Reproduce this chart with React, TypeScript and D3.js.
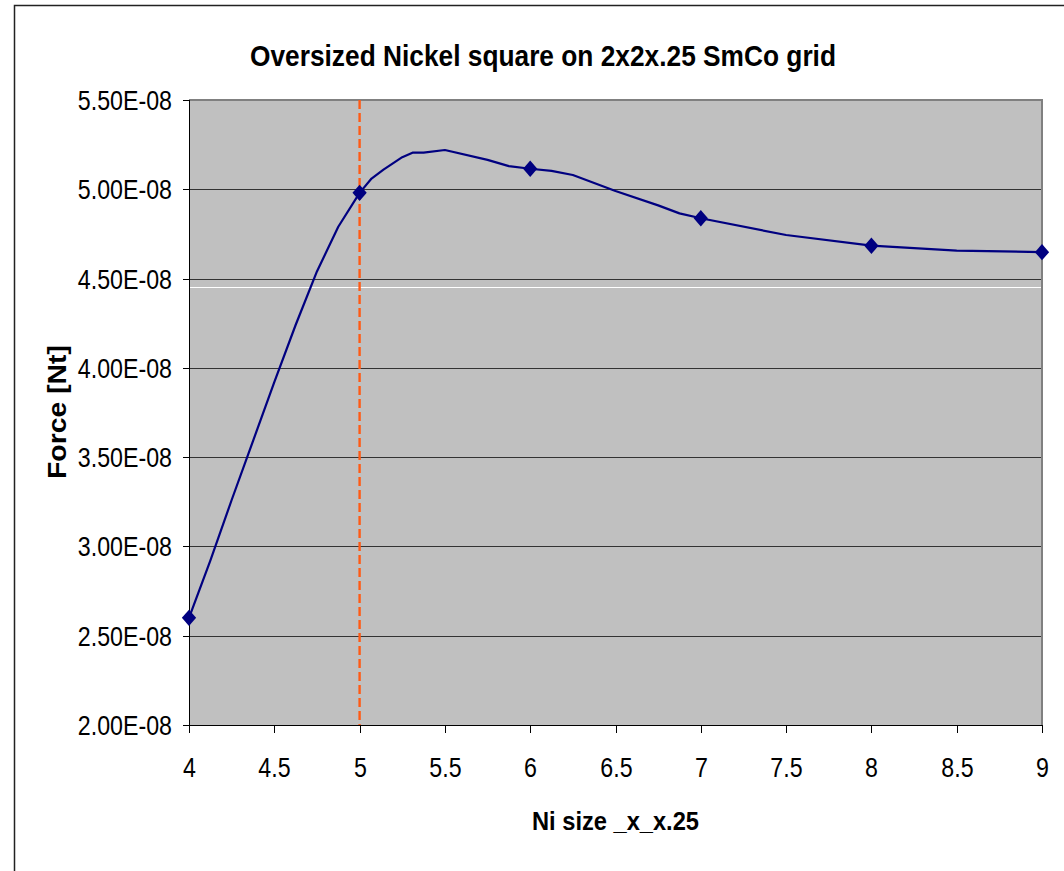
import * as React from 'react';
import * as d3 from 'd3';

// Fine curve (Ni size, force in 1e-8 Nt)
const LINE_X = [4, 4.125, 4.25, 4.375, 4.5, 4.625, 4.75, 4.875, 5, 5.07, 5.14, 5.25, 5.31, 5.375, 5.5, 5.75, 5.875, 6, 6.125, 6.25, 6.5, 6.75, 6.875, 7, 7.5, 8, 8.5, 9];
const LINE_F = [2.6, 2.92, 3.26, 3.59, 3.92, 4.24, 4.54, 4.79, 4.98, 5.06, 5.11, 5.18, 5.205, 5.205, 5.22, 5.165, 5.13, 5.115, 5.103, 5.08, 4.99, 4.91, 4.865, 4.838, 4.744, 4.684, 4.657, 4.648];

// Marked points
const MARK_X = [4, 5, 6, 7, 8, 9];
const MARK_F = [2.6, 4.98, 5.115, 4.838, 4.684, 4.648];

const X_TICKS = [4, 4.5, 5, 5.5, 6, 6.5, 7, 7.5, 8, 8.5, 9];
const Y_TICKS = [2.0, 2.5, 3.0, 3.5, 4.0, 4.5, 5.0, 5.5];

const REF_X = 5; // dashed marker line
const WHITE_STREAK = 4.455; // stray white line just under the 4.50E-08 grid line

const TITLE = 'Oversized Nickel square on 2x2x.25 SmCo grid';
const X_LABEL = 'Ni size _x_x.25';
const Y_LABEL = 'Force [Nt]';

interface Pt {
    x: number;
    f: number;
}

const FONT = '"Liberation Sans", Arial, sans-serif';

const App: React.FC = () => {
    const svgRef = React.useRef<SVGSVGElement>(null);

    React.useEffect(() => {
        const svg = d3.select(svgRef.current);
        svg.selectAll('*').remove();

        const PLOT = { left: 189, right: 1042, top: 100, bottom: 725 };

        const xScale = d3.scaleLinear().domain([4, 9]).range([PLOT.left, PLOT.right]);
        const yScale = d3.scaleLinear().domain([2, 5.5]).range([PLOT.bottom, PLOT.top]);

        const linePts: Pt[] = LINE_X.map((x, i) => ({ x, f: LINE_F[i] }));
        const markPts: Pt[] = MARK_X.map((x, i) => ({ x, f: MARK_F[i] }));

        /** ******** Chart frame ********* */
        svg.append('rect').attr('width', 1064).attr('height', 871).attr('fill', '#fff');
        svg.append('rect')
            .attr('x', 14.5)
            .attr('y', 5.5)
            .attr('width', 1200)
            .attr('height', 1000)
            .attr('fill', 'none')
            .attr('stroke', '#222')
            .attr('stroke-width', 1.5);

        /** ******** Plot area ********* */
        svg.append('rect')
            .attr('x', PLOT.left)
            .attr('y', PLOT.top)
            .attr('width', PLOT.right - PLOT.left)
            .attr('height', PLOT.bottom - PLOT.top)
            .attr('fill', '#c0c0c0');

        // grid
        svg.append('g')
            .selectAll('line')
            .data(Y_TICKS.slice(1, -1))
            .enter()
            .append('line')
            .attr('x1', PLOT.left)
            .attr('x2', PLOT.right)
            .attr('y1', d => Math.round(yScale(d)) + 0.5)
            .attr('y2', d => Math.round(yScale(d)) + 0.5)
            .attr('stroke', '#333')
            .attr('stroke-width', 1.2);

        svg.append('line')
            .attr('x1', PLOT.left + 1)
            .attr('x2', PLOT.right - 1)
            .attr('y1', Math.round(yScale(WHITE_STREAK)) + 0.5)
            .attr('y2', Math.round(yScale(WHITE_STREAK)) + 0.5)
            .attr('stroke', '#fff')
            .attr('stroke-width', 1.2);

        // gray top & right border
        svg.append('path')
            .attr('d', `M${PLOT.left},${PLOT.top} H${PLOT.right} V${PLOT.bottom}`)
            .attr('fill', 'none')
            .attr('stroke', '#808080')
            .attr('stroke-width', 2);

        /** ******** Axes ********* */
        const yAxis = svg.append('g');
        yAxis.append('line')
            .attr('x1', PLOT.left + 0.5)
            .attr('x2', PLOT.left + 0.5)
            .attr('y1', PLOT.top)
            .attr('y2', PLOT.bottom + 1)
            .attr('stroke', '#000');
        const yTick = yAxis
            .selectAll('g.tick')
            .data(Y_TICKS)
            .enter()
            .append('g')
            .attr('transform', d => `translate(0,${Math.round(yScale(d)) + 0.5})`);
        yTick.append('line')
            .attr('x1', PLOT.left - 6)
            .attr('x2', PLOT.left)
            .attr('stroke', '#000');
        yTick.append('text')
            .attr('transform', 'translate(172,9.5) scale(0.86,1)')
            .attr('text-anchor', 'end')
            .attr('font-family', FONT)
            .attr('font-size', 27)
            .attr('fill', '#000')
            .text(d => `${d.toFixed(2)}E-08`);

        const xAxis = svg.append('g');
        xAxis.append('line')
            .attr('x1', PLOT.left)
            .attr('x2', PLOT.right + 1)
            .attr('y1', PLOT.bottom + 0.5)
            .attr('y2', PLOT.bottom + 0.5)
            .attr('stroke', '#000');
        const xTick = xAxis
            .selectAll('g.tick')
            .data(X_TICKS)
            .enter()
            .append('g')
            .attr('transform', d => `translate(${Math.round(xScale(d)) + 0.5},0)`);
        xTick.append('line')
            .attr('y1', PLOT.bottom)
            .attr('y2', PLOT.bottom + 8)
            .attr('stroke', '#000');
        xTick.append('text')
            .attr('transform', 'translate(0,777) scale(0.86,1)')
            .attr('text-anchor', 'middle')
            .attr('font-family', FONT)
            .attr('font-size', 27)
            .attr('fill', '#000')
            .text(d => `${d}`);

        /** ******** Titles ********* */
        svg.append('text')
            .attr('x', 543)
            .attr('y', 66)
            .attr('text-anchor', 'middle')
            .attr('font-family', FONT)
            .attr('font-weight', 'bold')
            .attr('font-size', 30)
            .attr('textLength', 586)
            .attr('lengthAdjust', 'spacingAndGlyphs')
            .text(TITLE);

        svg.append('text')
            .attr('x', (PLOT.left + PLOT.right) / 2)
            .attr('y', 830)
            .attr('text-anchor', 'middle')
            .attr('font-family', FONT)
            .attr('font-weight', 'bold')
            .attr('font-size', 26)
            .attr('textLength', 167)
            .attr('lengthAdjust', 'spacingAndGlyphs')
            .text(X_LABEL);

        svg.append('text')
            .attr('transform', 'translate(66,412) rotate(-90)')
            .attr('text-anchor', 'middle')
            .attr('font-family', FONT)
            .attr('font-weight', 'bold')
            .attr('font-size', 26)
            .attr('textLength', 134)
            .attr('lengthAdjust', 'spacingAndGlyphs')
            .text(Y_LABEL);

        /** ******** Reference line at x = 5 ********* */
        svg.append('line')
            .attr('x1', xScale(REF_X))
            .attr('x2', xScale(REF_X))
            .attr('y1', PLOT.top)
            .attr('y2', PLOT.bottom)
            .attr('stroke', '#ff5a14')
            .attr('stroke-width', 2.4)
            .attr('stroke-dasharray', '9 4');

        /** ******** Series ********* */
        const getLine = d3
            .line<Pt>()
            .x(d => xScale(d.x))
            .y(d => yScale(d.f))
            .curve(d3.curveLinear);
        svg.append('path')
            .datum(linePts)
            .attr('d', getLine)
            .attr('fill', 'none')
            .attr('stroke', '#000080')
            .attr('stroke-width', 2.2)
            .attr('stroke-linejoin', 'round');

        const diamond = d3.symbol().type(d3.symbolDiamond2).size(130);
        svg.append('g')
            .selectAll('path')
            .data(markPts)
            .enter()
            .append('path')
            .attr('d', diamond)
            .attr('transform', d => `translate(${xScale(d.x)},${yScale(d.f)}) scale(1,1.15)`)
            .attr('fill', '#000080');
    });

    return (
        <svg
            ref={svgRef}
            width={1064}
            height={871}
            style={{ position: 'absolute', left: 0, top: 0, display: 'block' }}
        />
    );
};

export default App;
